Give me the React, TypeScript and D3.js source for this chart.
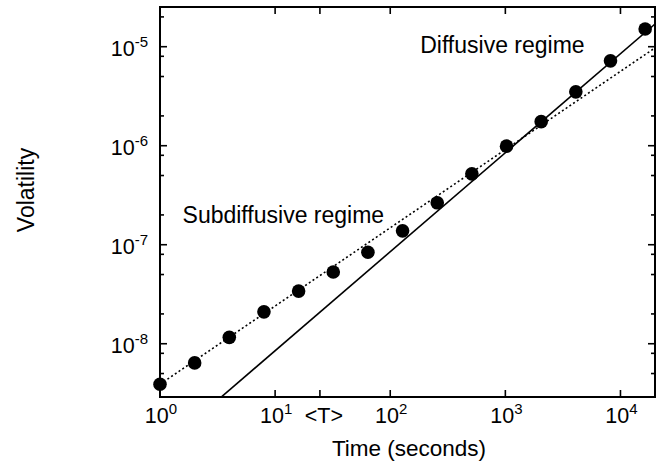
import React, { useEffect, useRef } from "react";
import * as d3 from "d3";

// measured volatility vs. time lag (seconds)
const times = [1, 2, 4, 8, 16, 32, 64, 128, 256, 512, 1024, 2048, 4096, 8192, 16384];
const volatility = [
  3.9e-9, 6.4e-9, 1.16e-8, 2.1e-8, 3.4e-8, 5.3e-8, 8.4e-8, 1.38e-7, 2.65e-7,
  5.2e-7, 9.9e-7, 1.75e-6, 3.5e-6, 7.2e-6, 1.51e-5,
];

// power law fits: coef * t^exponent
const subdiffusiveFit = { coef: 3.9e-9, exponent: 0.79 };
const diffusiveFit = { coef: 8.5e-10, exponent: 1 };

// tick labels
const xDecades = [0, 1, 2, 3, 4];
const meanT = 24.5; // <T>
const yDecades = [-8, -7, -6, -5];
const yMinorMult = [2, 5, 8];

// text anchored at (time, volatility) = left end of baseline
const annotations = [
  { text: "Diffusive regime", t: 182, v: 8.6e-6 },
  { text: "Subdiffusive regime", t: 1.57, v: 1.66e-7 },
];

export default function App() {
  const ref = useRef<SVGSVGElement>(null);

  useEffect(() => {
    const w = 665;
    const h = 468;
    const left = 160;
    const right = 655;
    const top = 7;
    const bottom = 397;
    const font = "'Liberation Sans', Arial, Helvetica, sans-serif";

    const svg = d3.select(ref.current);
    svg.selectAll("*").remove();
    svg.attr("width", w).attr("height", h);

    const x = d3.scaleLog().domain([1, Math.pow(10, 4.3)]).range([left, right]);
    const y = d3
      .scaleLog()
      .domain([Math.pow(10, -8.538), Math.pow(10, -4.599)])
      .range([bottom, top]);

    svg
      .append("defs")
      .append("clipPath")
      .attr("id", "plot-clip")
      .append("rect")
      .attr("x", left)
      .attr("y", top)
      .attr("width", right - left)
      .attr("height", bottom - top);

    const plot = svg.append("g").attr("clip-path", "url(#plot-clip)");

    // fit lines
    const fitLine = (fit: { coef: number; exponent: number }) => {
      const pts = x.domain().map((t) => [t, fit.coef * Math.pow(t, fit.exponent)]);
      return d3
        .line<number[]>()
        .x((d) => x(d[0]))
        .y((d) => y(d[1]))(pts);
    };

    plot
      .append("path")
      .attr("d", fitLine(subdiffusiveFit))
      .attr("fill", "none")
      .attr("stroke", "#000")
      .attr("stroke-width", 1.6)
      .attr("stroke-dasharray", "2,2.5");

    plot
      .append("path")
      .attr("d", fitLine(diffusiveFit))
      .attr("fill", "none")
      .attr("stroke", "#000")
      .attr("stroke-width", 1.6);

    // data points
    svg
      .append("g")
      .selectAll("circle")
      .data(times)
      .join("circle")
      .attr("cx", (d) => x(d))
      .attr("cy", (d, i) => y(volatility[i]))
      .attr("r", 6.8)
      .attr("fill", "#000");

    // ticks on all four sides
    const ticks = svg.append("g").attr("stroke", "#000").attr("stroke-width", 1.6);
    const xTicks = xDecades.map((k) => Math.pow(10, k)).concat([meanT]);
    xTicks.forEach((t) => {
      ticks.append("line").attr("x1", x(t)).attr("x2", x(t)).attr("y1", bottom).attr("y2", bottom - 7);
      ticks.append("line").attr("x1", x(t)).attr("x2", x(t)).attr("y1", top).attr("y2", top + 7);
    });
    const yMajor = yDecades.map((k) => Math.pow(10, k));
    const yMinor: number[] = [];
    d3.range(-9, -4).forEach((k) =>
      yMinorMult.forEach((m) => yMinor.push(m * Math.pow(10, k)))
    );
    yMajor.forEach((v) => {
      ticks.append("line").attr("x1", left).attr("x2", left + 7).attr("y1", y(v)).attr("y2", y(v));
      ticks.append("line").attr("x1", right).attr("x2", right - 7).attr("y1", y(v)).attr("y2", y(v));
    });
    yMinor
      .filter((v) => y(v) > top + 1 && y(v) < bottom - 1)
      .forEach((v) => {
        ticks.append("line").attr("x1", left).attr("x2", left + 4).attr("y1", y(v)).attr("y2", y(v));
        ticks.append("line").attr("x1", right).attr("x2", right - 4).attr("y1", y(v)).attr("y2", y(v));
      });

    // frame
    svg
      .append("rect")
      .attr("x", left)
      .attr("y", top)
      .attr("width", right - left)
      .attr("height", bottom - top)
      .attr("fill", "none")
      .attr("stroke", "#000")
      .attr("stroke-width", 2);

    // x tick labels
    const labels = svg.append("g").attr("font-family", font).attr("fill", "#000");
    xDecades.forEach((k) => {
      const t = labels
        .append("text")
        .attr("x", x(Math.pow(10, k)) + 1)
        .attr("y", 423)
        .attr("text-anchor", "middle")
        .attr("font-size", 21.5);
      t.append("tspan").text("10");
      t.append("tspan").attr("dy", -9).attr("font-size", 15).text(String(k));
    });
    labels
      .append("text")
      .attr("x", x(meanT) + 4)
      .attr("y", 423)
      .attr("text-anchor", "middle")
      .attr("font-size", 21.5)
      .text("<T>");

    // y tick labels
    yDecades.forEach((k) => {
      const t = labels
        .append("text")
        .attr("x", 148)
        .attr("y", y(Math.pow(10, k)) + 9)
        .attr("text-anchor", "end")
        .attr("font-size", 21.5);
      t.append("tspan").text("10");
      t.append("tspan").attr("dy", -9).attr("font-size", 15).text(String(k));
    });

    // axis titles
    labels
      .append("text")
      .attr("x", 409)
      .attr("y", 456)
      .attr("text-anchor", "middle")
      .attr("font-size", 22.5)
      .text("Time (seconds)");
    labels
      .append("text")
      .attr("transform", "translate(34,190) rotate(-90)")
      .attr("text-anchor", "middle")
      .attr("font-size", 23)
      .text("Volatility");

    // regime annotations
    annotations.forEach((a) => {
      labels
        .append("text")
        .attr("x", x(a.t))
        .attr("y", y(a.v))
        .attr("font-size", 23)
        .text(a.text);
    });
  }, []);

  return <svg ref={ref} style={{ position: "absolute", left: 0, top: 0 }} />;
}
